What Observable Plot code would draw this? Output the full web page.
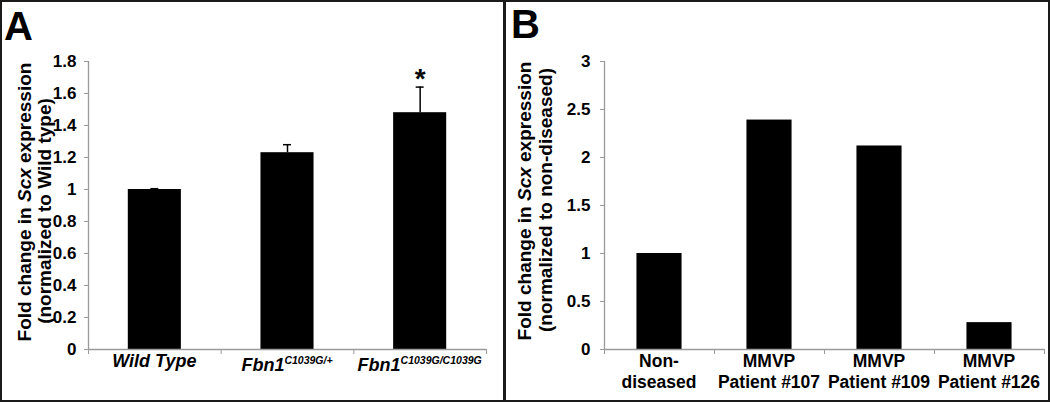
<!DOCTYPE html>
<html><head><meta charset="utf-8">
<script src="https://cdn.jsdelivr.net/npm/d3@7"></script>
<script src="https://cdn.jsdelivr.net/npm/@observablehq/plot@0.6"></script>
<style>
body{margin:0;background:#fff;}
#wrap{position:relative;width:1050px;height:402px;font-family:"Liberation Sans",Arial,sans-serif;overflow:hidden;}
.panel{position:absolute;top:0;height:402px;box-sizing:border-box;border:2px solid #1a1a1a;pointer-events:none;}
#a,#b{position:absolute;top:0;}
#a{left:0;} #b{left:504px;}
</style></head><body>
<div id="wrap"><div id="a"></div><div id="b"></div>
<div class="panel" style="left:0;width:506px"></div>
<div class="panel" style="left:503px;width:547px"></div>
</div>
<script>
// Panel A data
const catsA = ["Wild Type", "Fbn1 C1039G/+", "Fbn1 C1039G/C1039G"];
const labelMainA = ["Wild Type", "Fbn1", "Fbn1"];
const labelSupA = ["", "C1039G/+", "C1039G/C1039G"];
const valuesA = [1.0, 1.23, 1.48];
const errorsA = [0.005, 0.05, 0.16];
const sigA = ["", "", "*"];
const ticksA = [0, 0.2, 0.4, 0.6, 0.8, 1, 1.2, 1.4, 1.6, 1.8];

// Panel B data
const catsB = ["Non-diseased", "MMVP Patient #107", "MMVP Patient #109", "MMVP Patient #126"];
const labelLine1B = ["Non-", "MMVP", "MMVP", "MMVP"];
const labelLine2B = ["diseased", "Patient #107", "Patient #109", "Patient #126"];
const valuesB = [1.0, 2.39, 2.12, 0.28];
const ticksB = [0, 0.5, 1, 1.5, 2, 2.5, 3];

const FONT = '"Liberation Sans", Arial, sans-serif';
const AXIS = "#9a9a9a";

function addYTitle(svg, cx1, cx2, cy1, cy2, line2) {
  const t1 = svg.append("text")
    .attr("transform", `translate(${cx1},${cy1}) rotate(-90)`)
    .attr("text-anchor", "middle").attr("dy", "0.35em")
    .attr("font-size", 19).attr("font-weight", "bold").attr("font-family", FONT).attr("fill", "#000");
  t1.append("tspan").text("Fold change in ");
  t1.append("tspan").attr("font-style", "italic").text("Scx");
  t1.append("tspan").text(" expression");
  svg.append("text")
    .attr("transform", `translate(${cx2},${cy2}) rotate(-90)`)
    .attr("text-anchor", "middle").attr("dy", "0.35em")
    .attr("font-size", 19).attr("font-weight", "bold").attr("font-family", FONT).attr("fill", "#000")
    .text(line2);
}

// ---------- Panel A ----------
const dataA = catsA.map((c, i) => ({i, cat: c, value: valuesA[i], err: errorsA[i], sig: sigA[i]}));
const plotA = Plot.plot({
  width: 504, height: 402,
  marginLeft: 88, marginRight: 18, marginTop: 61, marginBottom: 53,
  style: {background: "transparent", fontFamily: FONT, color: "#000", overflow: "visible"},
  x: {domain: [0, catsA.length], axis: null},
  y: {domain: [0, 1.8], axis: null},
  marks: [
    Plot.rectY(dataA, {x1: d => d.i + 0.3, x2: d => d.i + 0.7, y1: 0, y2: "value", fill: "#000"}),
    Plot.ruleX(dataA, {x: d => d.i + 0.5, y1: "value", y2: d => d.value + d.err, stroke: "#000", strokeWidth: 1.5}),
    Plot.ruleY(dataA, {y: d => d.value + d.err, x1: d => d.i + 0.47, x2: d => d.i + 0.53, stroke: "#000", strokeWidth: 1.5}),
    Plot.text(dataA, {x: d => d.i + 0.5, y: d => d.value + d.err, text: "sig", dy: 1, lineAnchor: "bottom", fontSize: 28, fontWeight: "bold", fill: "#000"}),
    Plot.axisY({ticks: ticksA, tickSize: 4, tickPadding: 8, stroke: AXIS, fontSize: 17, fontWeight: "bold", label: null, tickFormat: d => String(d)}),
    Plot.axisX({ticks: d3.range(catsA.length + 1), tickSize: 5, tickFormat: () => "", stroke: AXIS, label: null}),
    Plot.ruleX([0], {stroke: AXIS, strokeWidth: 1.3}),
    Plot.ruleY([0], {stroke: AXIS, strokeWidth: 1.3})
  ]
});
document.getElementById("a").append(plotA);
{
  const svg = d3.select(plotA);
  const xs = plotA.scale("x"), ys = plotA.scale("y");
  svg.append("text").attr("x", 4).attr("y", 40).attr("text-anchor", "start").attr("font-size", 40).attr("font-weight", "bold")
    .attr("font-family", FONT).attr("fill", "#000").text("A");
  addYTitle(svg, 24, 44, 202, 211, "(normalized to Wild type)");
  catsA.forEach((c, i) => {
    const t = svg.append("text")
      .attr("x", xs.apply(i + 0.5))
      .attr("y", ys.apply(0) + (labelSupA[i] ? 22 : 18))
      .attr("text-anchor", "middle").attr("font-family", FONT).attr("font-weight", "bold")
      .attr("font-style", "italic").attr("font-size", 18).attr("fill", "#000");
    t.append("tspan").text(labelMainA[i]);
    if (labelSupA[i]) t.append("tspan").attr("font-size", 10.5).attr("dy", -7).text(labelSupA[i]);
  });
}

// ---------- Panel B ----------
const dataB = catsB.map((c, i) => ({i, cat: c, value: valuesB[i]}));
const plotB = Plot.plot({
  width: 546, height: 402,
  marginLeft: 100, marginRight: 6, marginTop: 61, marginBottom: 53,
  style: {background: "transparent", fontFamily: FONT, color: "#000", overflow: "visible"},
  x: {domain: [0, catsB.length], axis: null},
  y: {domain: [0, 3], axis: null},
  marks: [
    Plot.rectY(dataB, {x1: d => d.i + 0.295, x2: d => d.i + 0.705, y1: 0, y2: "value", fill: "#000"}),
    Plot.axisY({ticks: ticksB, tickSize: 4, tickPadding: 10, stroke: AXIS, fontSize: 17, fontWeight: "bold", label: null, tickFormat: d => String(d)}),
    Plot.axisX({ticks: d3.range(catsB.length + 1), tickSize: 5, tickFormat: () => "", stroke: AXIS, label: null}),
    Plot.ruleX([0], {stroke: AXIS, strokeWidth: 1.3}),
    Plot.ruleY([0], {stroke: AXIS, strokeWidth: 1.3})
  ]
});
document.getElementById("b").append(plotB);
{
  const svg = d3.select(plotB);
  const xs = plotB.scale("x"), ys = plotB.scale("y");
  svg.append("text").attr("x", 7).attr("y", 38).attr("text-anchor", "start").attr("font-size", 40).attr("font-weight", "bold")
    .attr("font-family", FONT).attr("fill", "#000").text("B");
  addYTitle(svg, 20, 41, 201, 200, "(normalized to non-diseased)");
  catsB.forEach((c, i) => {
    const t = svg.append("text")
      .attr("text-anchor", "middle").attr("font-family", FONT).attr("font-weight", "bold")
      .attr("font-size", 17.5).attr("fill", "#000");
    t.append("tspan").attr("x", xs.apply(i + 0.5)).attr("y", ys.apply(0) + 18).text(labelLine1B[i]);
    t.append("tspan").attr("x", xs.apply(i + 0.5)).attr("y", ys.apply(0) + 39).text(labelLine2B[i]);
  });
}
</script>
</body></html>
